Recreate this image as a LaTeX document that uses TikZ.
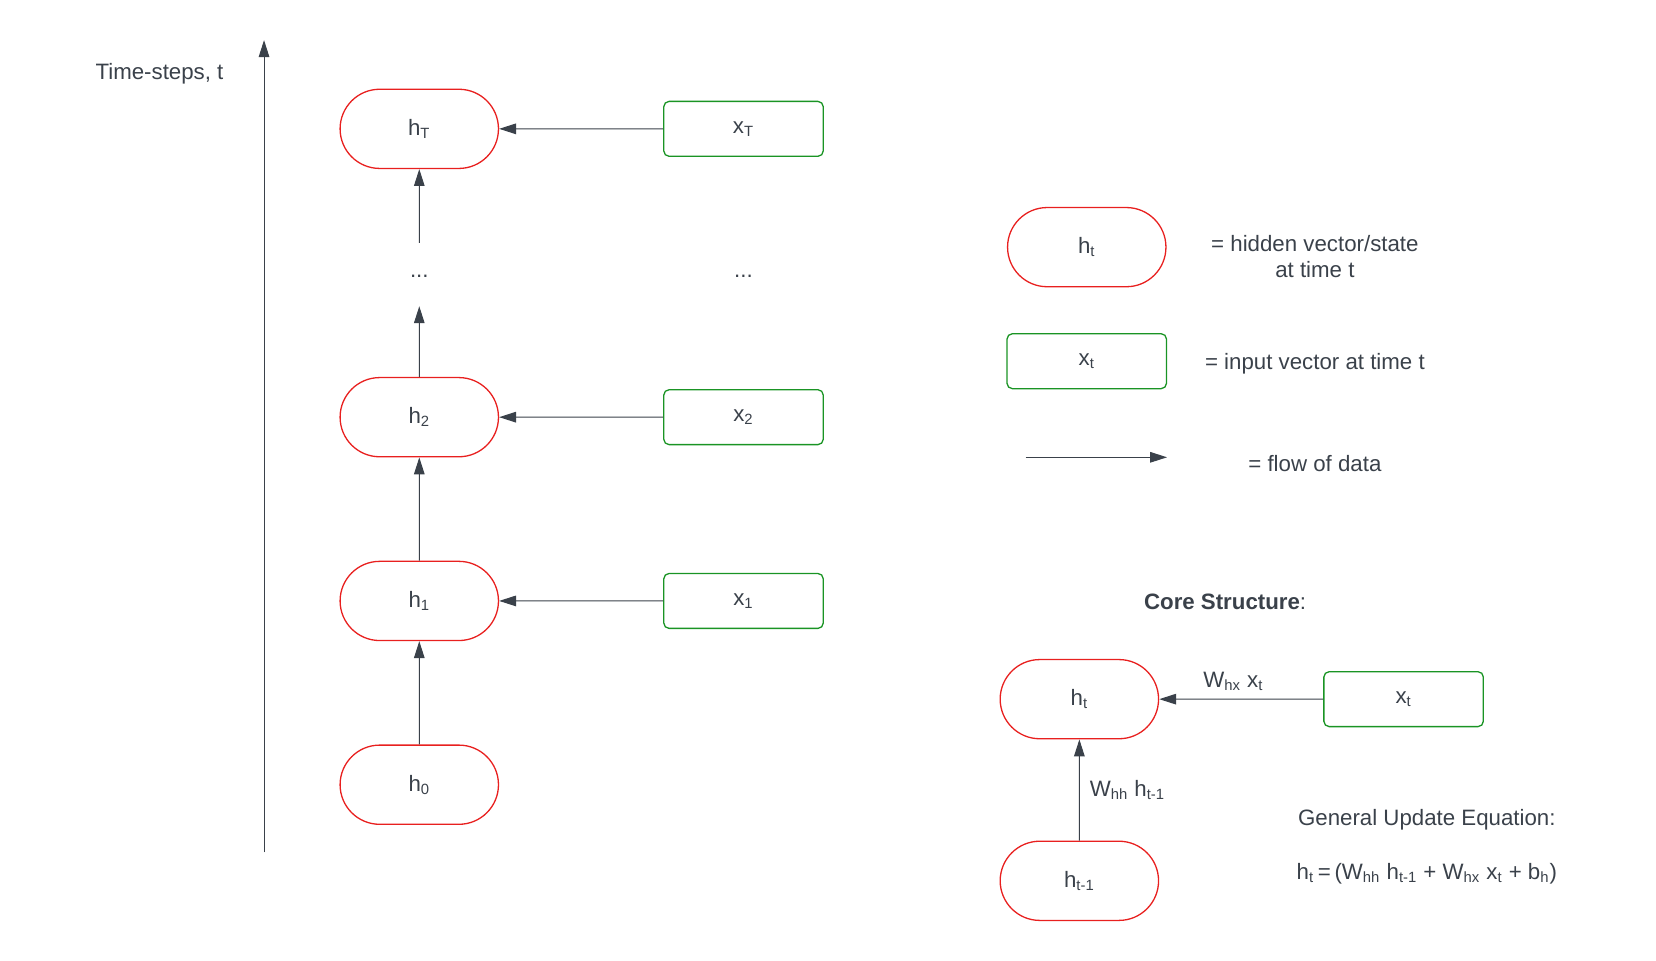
\documentclass[tikz,border=0pt]{standalone}
\usepackage{fontspec}
\setmainfont{Liberation Sans}
\usepackage{tikz}
\usetikzlibrary{arrows.meta}
\usetikzlibrary{shapes.misc}

\definecolor{ink}{HTML}{3A414A}
\definecolor{hred}{HTML}{E8201F}
\definecolor{xgreen}{HTML}{1A9424}

\begin{document}
\begin{tikzpicture}[x=0.02cm,y=-0.02cm,>={Triangle[length=0.32cm,width=0.2cm]},
		font=\fontsize{12}{14.4}\selectfont,text=ink,
		hstate/.style={draw=hred,line width=0.7pt,rounded rectangle,minimum width=3cm,minimum height=1.5cm,inner sep=0pt},
		xinput/.style={draw=xgreen,line width=0.7pt,rounded corners=0.1cm,minimum width=3.02cm,minimum height=1.04cm,inner sep=0pt},
		flow/.style={->,draw=ink,line width=0.55pt}
		]
		\useasboundingbox (0,0) rectangle (1568,909);
		% time axis
		\coordinate (axis-0) at (250,807);
		\coordinate (axis-1) at (250,38);
		\draw[flow] (axis-0) -- (axis-1);
		\node (axis-label) at (151,70) {Time-steps, t};
		% unrolled network
		\node[hstate] (h-T) at (397,122) {h\textsubscript{T}};
		\node (h-dots) at (397,262) {...};
		\node[hstate] (h-2) at (397,395) {h\textsubscript{2}};
		\node[hstate] (h-1) at (397,569) {h\textsubscript{1}};
		\node[hstate] (h-0) at (397,743) {h\textsubscript{0}};
		\node[xinput] (x-T) at (704,122) {x\textsubscript{T}};
		\node (x-dots) at (704,262) {...};
		\node[xinput] (x-2) at (704,395) {x\textsubscript{2}};
		\node[xinput] (x-1) at (704,569) {x\textsubscript{1}};
		\coordinate (dots-in) at (397,290);
		\coordinate (dots-out) at (397,230);
		\draw[flow] (x-T) -- (h-T);
		\draw[flow] (x-2) -- (h-2);
		\draw[flow] (x-1) -- (h-1);
		\draw[flow] (h-0) -- (h-1);
		\draw[flow] (h-1) -- (h-2);
		\draw[flow] (h-2) -- (dots-in);
		\draw[flow] (dots-out) -- (h-T);
		% legend
		\node[hstate] (leg-h) at (1029,234) {h\textsubscript{t}};
		\node[xinput] (leg-x) at (1029,342) {x\textsubscript{t}};
		\coordinate (leg-0) at (971,433);
		\coordinate (leg-1) at (1105,433);
		\draw[flow] (leg-0) -- (leg-1);
		\node[align=center] (leg-h-text) at (1245,243) {= hidden vector/state\\at time t};
		\node (leg-x-text) at (1245,344) {= input vector at time t};
		\node (leg-flow-text) at (1245,439) {= flow of data};
		% core structure
		\node (core-title) at (1160,570) {\textbf{Core Structure}:};
		\node[hstate] (core-h) at (1022,662) {h\textsubscript{t}};
		\node[hstate] (core-hprev) at (1022,834) {h\textsubscript{t-1}};
		\node[xinput] (core-x) at (1329,662) {x\textsubscript{t}};
		\draw[flow] (core-x) -- (core-h) node [midway,above,xshift=-0.15cm,yshift=1pt] {W\textsubscript{hx} x\textsubscript{t}};
		\draw[flow] (core-hprev) -- (core-h) node [midway,right,xshift=2pt] {W\textsubscript{hh} h\textsubscript{t-1}};
		\node (eq-title) at (1351,776) {General Update Equation:};
		\node (eq) at (1351,827) {h\textsubscript{t}\,=\,(W\textsubscript{hh} h\textsubscript{t-1} + W\textsubscript{hx} x\textsubscript{t} + b\textsubscript{h})};
\end{tikzpicture}
\end{document}
